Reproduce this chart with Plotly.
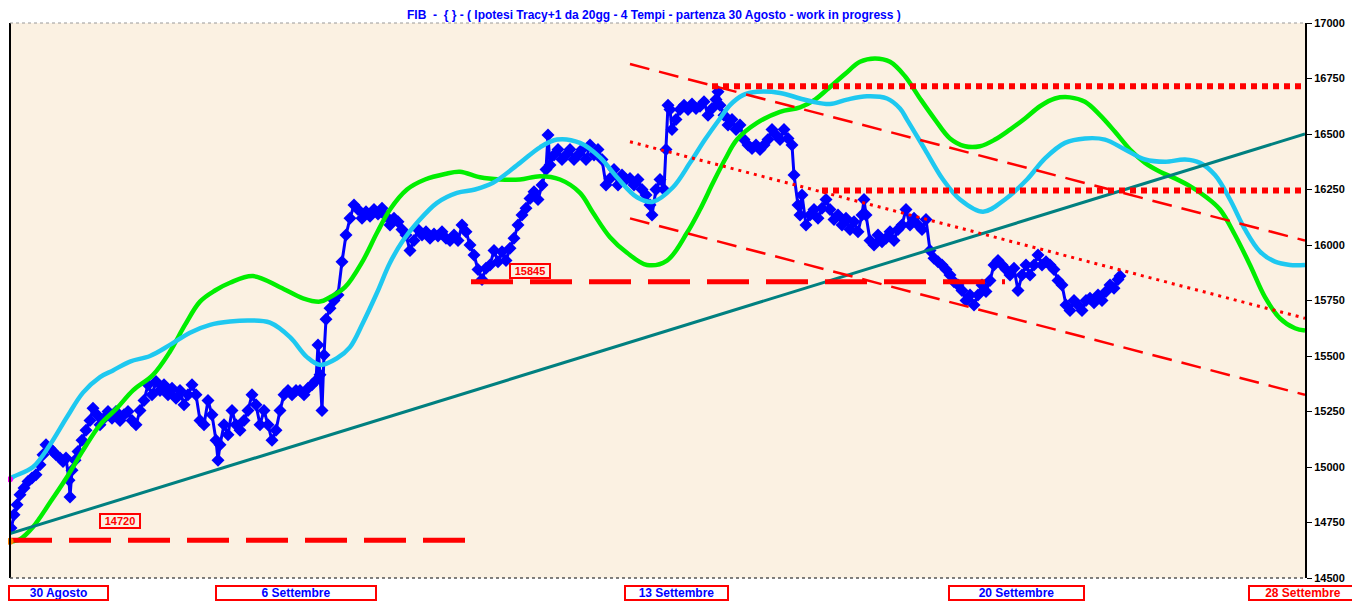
import plotly.graph_objects as go

# ---------------- data ----------------
# time index (intraday bars since 30 Agosto) and FIB price
price_t = [1,4,7,10,14,18,22,26,30,33,36,40,43,46,50,53,56,59,60,62,65,68,72,76,80,83,87,90,94,98,
           102,106,110,114,118,122,126,130,134,138,142,146,150,154,158,162,166,170,174,178,182,186,190,194,198,
           202,206,208,210,214,218,222,226,230,234,238,242,246,250,254,258,262,266,270,274,278,282,286,290,294,298,
           302,306,308,310,312,314,316,320,324,328,332,336,340,344,348,352,356,360,364,368,372,376,380,384,388,392,396,
           400,404,408,412,416,420,424,428,432,436,440,444,448,452,456,460,464,468,472,476,480,484,488,492,496,
           500,504,508,512,516,520,524,528,532,536,538,540,544,548,552,556,560,564,568,572,576,580,584,588,592,596,
           600,604,608,612,616,620,624,628,632,636,640,642,646,650,654,656,658,660,662,666,670,674,678,682,686,690,694,698,
           702,706,708,710,714,718,722,726,730,734,738,742,746,750,754,758,762,766,770,774,778,782,784,788,790,792,796,
           800,804,808,812,816,820,824,828,832,836,840,844,848,852,854,856,860,864,868,872,876,880,884,888,892,896,
           900,904,908,912,916,920,924,928,932,936,940,944,948,952,956,960,964,968,972,976,980,984,988,992,996,
           1000,1004,1008,1012,1016,1020,1024,1028,1032,1036,1040,1044,1048,1052,1056,1060,1064,1068,1072,1076,1080,
           1084,1088,1092,1096,1100,1104,1108,1110]
price_v = [14725,14785,14830,14875,14905,14935,14950,14965,15010,15055,15100,15085,15070,15055,15040,15025,15040,14940,14865,14985,
           15030,15070,15120,15165,15210,15265,15235,15190,15220,15250,
           15220,15250,15210,15235,15250,15210,15190,15255,15300,15370,15325,15385,15345,15370,15325,15355,15310,15345,15280,15325,15370,15325,15210,15190,15300,
           15235,15120,15030,15100,15190,15145,15255,15190,15165,15210,15255,15325,15280,15190,15255,15190,15120,15165,15255,15325,15345,15325,15345,15345,15325,15355,
           15370,15390,15550,15415,15255,15505,15665,15715,15750,15775,15925,16045,16120,16180,16160,16120,16150,16130,16160,16140,16165,16130,16090,16120,16105,16070,16045,
           15975,16020,16070,16045,16060,16030,16050,16040,16060,16030,16020,16045,16020,16090,16060,16000,15955,15890,15845,15895,15910,15975,15925,15970,15930,
           15985,16030,16090,16135,16165,16210,16240,16205,16270,16340,16495,16360,16405,16430,16385,16405,16430,16385,16405,16430,16385,16450,16405,16430,16385,16270,
           16300,16340,16270,16315,16295,16300,16270,16295,16250,16225,16180,16135,16250,16295,16250,16430,16630,16610,16520,16565,16610,16630,16610,16635,16615,16625,16645,16585,
           16615,16655,16690,16630,16585,16540,16565,16520,16540,16475,16450,16435,16450,16430,16450,16475,16520,16495,16475,16520,16480,16450,16315,16180,16135,16225,16090,
           16135,16160,16120,16165,16205,16160,16115,16135,16090,16120,16070,16105,16060,16135,16205,16135,16020,16000,16045,16015,16030,16060,16020,16070,16090,16160,
           16090,16120,16090,16070,16115,15975,15940,15925,15910,15890,15865,15835,15820,15795,15750,15775,15730,15775,15820,15790,15840,15910,15930,15910,15890,
           15865,15895,15795,15865,15910,15865,15910,15955,15910,15925,15910,15890,15840,15820,15730,15705,15750,15730,15705,15750,15760,
           15740,15775,15750,15790,15820,15805,15845,15860]

# Tracy cycle projections
green_t = [0,10,23,40,57,73,90,107,123,143,160,175,190,205,220,243,270,293,310,320,335,353,367,380,397,415,435,450,470,490,
           510,530,550,570,583,600,617,637,657,677,690,703,715,727,747,770,790,805,817,835,850,865,880,895,910,925,940,955,970,985,
           1000,1015,1030,1045,1060,1075,1090,1105,1120,1135,1150,1165,1180,1195,1210,1225,1240,1255,1270,1285,1295]
green_v = [14665,14675,14730,14840,14955,15075,15190,15265,15345,15415,15520,15640,15745,15795,15830,15860,15810,15760,15745,15765,
           15810,15930,16055,16160,16250,16295,16320,16330,16305,16295,16295,16310,16295,16235,16145,16035,15965,15910,15930,16055,
           16160,16280,16385,16475,16550,16600,16620,16655,16700,16770,16825,16840,16825,16760,16660,16565,16480,16445,16445,16475,
           16520,16570,16625,16660,16665,16645,16585,16510,16430,16370,16330,16300,16265,16220,16160,16045,15910,15765,15670,15625,15615]

cyan_t = [0,3,23,40,57,73,90,103,120,140,160,180,200,220,240,260,280,297,310,327,340,353,367,380,393,407,427,447,465,483,
          510,530,547,570,590,607,627,643,663,680,695,710,720,733,747,770,790,803,820,837,857,877,890,897,915,933,950,973,995,
          1017,1035,1055,1075,1095,1115,1135,1155,1175,1190,1205,1220,1235,1250,1265,1280,1295]
cyan_v = [14945,14955,15000,15100,15225,15335,15405,15435,15475,15500,15550,15605,15640,15655,15660,15650,15585,15495,15460,15490,
          15540,15650,15785,15920,16020,16100,16190,16235,16250,16280,16370,16440,16475,16460,16395,16305,16215,16195,16260,16370,
          16475,16570,16630,16675,16690,16685,16660,16645,16635,16655,16670,16660,16615,16565,16430,16295,16205,16150,16205,
          16295,16390,16460,16480,16475,16430,16385,16375,16385,16370,16315,16205,16070,15970,15925,15910,15910]

# trend line and levels
trend_t = [0, 1295]
trend_v = [14700, 16500]

low_level_t = [0, 455]
low_level_v = [14670, 14670]
mid_level_t = [461, 995]
mid_level_v = [15835, 15835]
res1_t = [702, 1295]
res1_v = [16715, 16715]
res2_t = [812, 1295]
res2_v = [16245, 16245]

channel_t = [620, 1295]
channel_up = [16815, 16020]
channel_mid = [16465, 15670]
channel_low = [16120, 15325]

date_labels = ["30 Agosto", "6 Settembre", "13 Settembre", "20 Settembre", "28 Settembre"]
date_pos = [48.5, 286, 666, 1006, 1293]
date_box_w = [97, 158, 101, 133, 106]
date_colors = ["#0000FF", "#0000FF", "#0000FF", "#0000FF", "#FF0000"]

level_labels = ["14720", "15845"]
level_label_t = [110, 520]
level_label_v = [14757, 15883]

yticks = [14500, 14750, 15000, 15250, 15500, 15750, 16000, 16250, 16500, 16750, 17000]

# ---------------- figure ----------------
fig = go.Figure()

fig.add_trace(go.Scatter(x=price_t, y=price_v, mode="lines+markers",
                         line=dict(color="#0000FF", width=3),
                         marker=dict(symbol="diamond", size=10, color="#0000FF"),
                         showlegend=False, hoverinfo="skip"))
fig.add_trace(go.Scatter(x=green_t, y=green_v, mode="lines", line=dict(color="#00EE00", width=4.5, shape="spline"),
                         showlegend=False))
fig.add_trace(go.Scatter(x=cyan_t, y=cyan_v, mode="lines", line=dict(color="#1EC8F0", width=4.5, shape="spline"),
                         showlegend=False))
fig.add_trace(go.Scatter(x=trend_t, y=trend_v, mode="lines", line=dict(color="#008080", width=3),
                         showlegend=False))

red = "#FF0000"
for tx, vy in [(low_level_t, low_level_v), (mid_level_t, mid_level_v)]:
    fig.add_trace(go.Scatter(x=tx, y=vy, mode="lines", line=dict(color=red, width=5, dash="42px,17px"),
                             showlegend=False))
for tx, vy in [(res1_t, res1_v), (res2_t, res2_v)]:
    fig.add_trace(go.Scatter(x=tx, y=vy, mode="lines", line=dict(color=red, width=6, dash="6px,5px"),
                             showlegend=False))
fig.add_trace(go.Scatter(x=channel_t, y=channel_up, mode="lines", line=dict(color=red, width=2.5, dash="20px,10px"),
                         showlegend=False))
fig.add_trace(go.Scatter(x=channel_t, y=channel_mid, mode="lines", line=dict(color=red, width=3, dash="3px,5px"),
                         showlegend=False))
fig.add_trace(go.Scatter(x=channel_t, y=channel_low, mode="lines", line=dict(color=red, width=2.5, dash="20px,10px"),
                         showlegend=False))

# start markers of the projections
fig.add_trace(go.Scatter(x=[cyan_t[0]], y=[cyan_v[0]], mode="markers",
                         marker=dict(color="#FF00FF", size=6), showlegend=False, cliponaxis=False))
fig.add_trace(go.Scatter(x=[green_t[0]], y=[green_v[0]], mode="markers",
                         marker=dict(color="#FF8000", size=7), showlegend=False, cliponaxis=False))

narrow = "Liberation Sans Narrow, Arial Narrow, Liberation Sans, Arial"

annotations = []
for lab, px, w, c in zip(date_labels, date_pos, date_box_w, date_colors):
    annotations.append(dict(x=px, y=-7 / 555, xref="x", yref="paper", text=lab, showarrow=False,
                            font=dict(family=narrow, size=12, color=c, weight="bold"),
                            width=w, height=12, align="center", borderwidth=2, borderpad=0,
                            bordercolor=red, yanchor="top", xanchor="center"))
for lab, tx, vy in zip(level_labels, level_label_t, level_label_v):
    annotations.append(dict(x=tx, y=vy, xref="x", yref="y", text=lab, showarrow=False,
                            font=dict(family="Liberation Sans, Arial", size=11, color=red, weight="bold"),
                            width=38, height=12, borderwidth=2, borderpad=0, bordercolor=red))
annotations.append(dict(x=0.4975, y=1 + 7.5 / 555, xref="paper", yref="paper", yanchor="middle",
                        text="FIB  -  { } - ( Ipotesi Tracy+1 da 20gg - 4 Tempi - partenza 30 Agosto - work in progress )",
                        showarrow=False, font=dict(family=narrow, size=12, color="#0000FF", weight="bold")))

shapes = [
    dict(type="line", xref="paper", yref="paper", x0=0, x1=0, y0=0, y1=1, line=dict(color="black", width=2)),
    dict(type="line", xref="paper", yref="paper", x0=0, x1=1, y0=0, y1=0, line=dict(color="#555555", width=1.5, dash="dot")),
    dict(type="line", xref="paper", yref="paper", x0=0, x1=1, y0=1, y1=1, line=dict(color="#999999", width=1, dash="dot")),
]

fig.update_layout(
    width=1352, height=596,
    margin=dict(l=2, r=55, t=15, b=26),
    paper_bgcolor="white",
    plot_bgcolor="#FBF1E2",
    annotations=annotations,
    shapes=shapes,
    xaxis=dict(range=[0, 1295], showgrid=False, zeroline=False, showticklabels=False, ticks="", showline=False),
    yaxis=dict(range=[14500, 17000], side="right", tickvals=yticks, ticktext=[str(v) for v in yticks],
               showgrid=False, zeroline=False, ticks="outside", ticklen=5, tickcolor="black",
               showline=True, linecolor="black", linewidth=2,
               tickfont=dict(family="Liberation Sans, Arial", size=11, color="black", weight="bold")),
)

fig.write_html("out.html")
